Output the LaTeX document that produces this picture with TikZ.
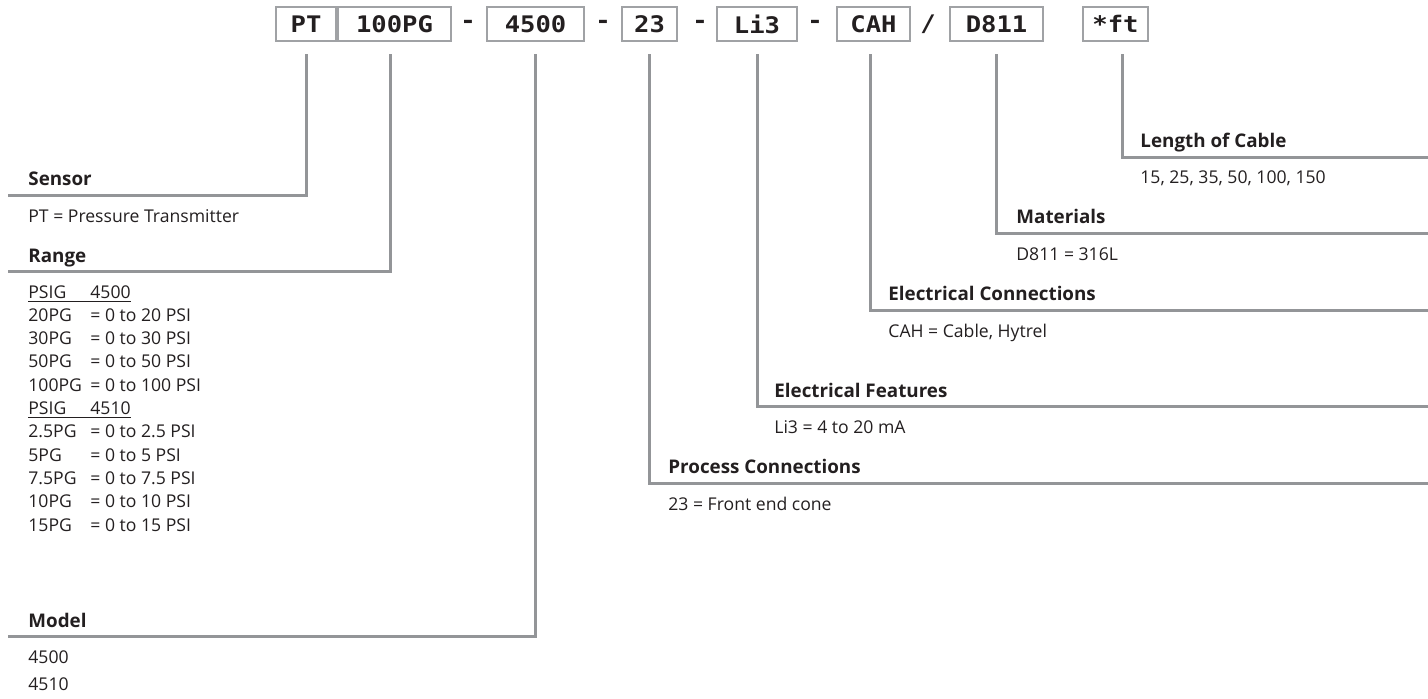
\documentclass[tikz,border=0pt]{standalone}
\usepackage{fontspec}
\setmainfont{Open Sans}
\newfontfamily\codefont[FakeStretch=1.12]{DejaVu Sans Mono}
\usetikzlibrary{positioning}
\definecolor{ink}{RGB}{35,31,32}
\definecolor{leadgray}{RGB}{147,149,152}
\definecolor{boxgray}{RGB}{160,162,165}

\newcommand\rng[2]{\makebox[31pt][l]{#1}= #2}
\newcommand\psig[1]{\underline{\makebox[31pt][l]{PSIG}#1}}

\begin{document}
\begin{tikzpicture}[
  x=0.5pt, y=-0.5pt,
  font=\fontsize{8.8}{10}\selectfont, text=ink,
  code/.style = {rectangle, draw=boxgray, line width=1pt, minimum height=17pt,
                 inner sep=0pt, font=\codefont\bfseries\fontsize{11.4}{12}\selectfont},
  sep/.style  = {inner sep=0pt, font=\codefont\bfseries\fontsize{11.4}{12}\selectfont},
  ttl/.style  = {anchor=base west, inner sep=0pt, font=\bfseries\fontsize{9.4}{10}\selectfont},
  txt/.style  = {anchor=base west, inner sep=0pt},
  lead/.style = {draw=leadgray, line width=1.5pt, shorten <=6pt}
]
\useasboundingbox (0,0) rectangle (1428,698);

% --- Model code ----------------------------------------------------------------
\node[code, minimum width=30pt]   (pt)   at (306,24)    {PT};
\node[code, minimum width=56.5pt, right=0pt of pt] (rng) {100PG};
\node[sep]                               at (468,24)    {-};
\node[code, minimum width=48.5pt] (mdl)  at (535.5,24)  {4500};
\node[sep]                               at (603,24)    {-};
\node[code, minimum width=27.5pt] (prc)  at (649.5,24)  {23};
\node[sep]                               at (700,24)    {-};
\node[code, minimum width=40pt]   (efe)  at (757,24)    {Li3};
\node[sep]                               at (815,24)    {-};
\node[code, minimum width=36.5pt] (eco)  at (873.5,24)  {CAH};
\node[sep]                               at (928,24)    {/};
\node[code, minimum width=46.5pt] (mat)  at (996.5,24)  {D811};
\node[code, minimum width=32.5pt] (ft)   at (1115.5,24) {*ft};

% --- Left side: Sensor, Range, Model -------------------------------------------
\node[ttl] (sens) at (28,185) {Sensor};
\node[txt] at (28,222) {PT = Pressure Transmitter};

\node[ttl] (range) at (28,262) {Range};
\foreach \row [count=\i from 0] in {{\psig{4500}},
    {\rng{20PG}{0 to 20 PSI}}, {\rng{30PG}{0 to 30 PSI}},
    {\rng{50PG}{0 to 50 PSI}}, {\rng{100PG}{0 to 100 PSI}},
    {\psig{4510}},
    {\rng{2.5PG}{0 to 2.5 PSI}}, {\rng{5PG}{0 to 5 PSI}},
    {\rng{7.5PG}{0 to 7.5 PSI}}, {\rng{10PG}{0 to 10 PSI}},
    {\rng{15PG}{0 to 15 PSI}}}
  \node[txt] at (28,{298+23.3*\i}) {\row};

\node[ttl] (model) at (28,627) {Model};
\node[txt] at (28,663) {4500};
\node[txt] at (28,690) {4510};

% --- Right side ------------------------------------------------------------------
\node[ttl] (len) at (1140,147) {Length of Cable};
\node[txt] at (1140,183) {15, 25, 35, 50, 100, 150};

\node[ttl] (matl) at (1016,223) {Materials};
\node[txt] at (1016,260) {D811 = 316L};

\node[ttl] (econ) at (888,300) {Electrical Connections};
\node[txt] at (888,337) {CAH = Cable, Hytrel};

\node[ttl] (efea) at (774,397) {Electrical Features};
\node[txt] at (774,433) {Li3 = 4 to 20 mA};

\node[ttl] (pcon) at (668,473) {Process Connections};
\node[txt] at (668,510) {23 = Front end cone};

% --- Line ends -------------------------------------------------------------------
\coordinate (sensL)  at (8,195);
\coordinate (rangeL) at (8,271);
\coordinate (modelL) at (8,636);
\coordinate (lenR)   at (1428,157);
\coordinate (matR)   at (1428,233);
\coordinate (econR)  at (1428,310);
\coordinate (efeaR)  at (1428,406);
\coordinate (pconR)  at (1428,483);

% --- Leaders ---------------------------------------------------------------------
\draw[lead] (pt.south)  |- (sensL);
\draw[lead] ([xshift=-2.25pt]rng.south) |- (rangeL);
\draw[lead] (mdl.south) |- (modelL);
\draw[lead] (prc.south) |- (pconR);
\draw[lead] (efe.south) |- (efeaR);
\draw[lead] ([xshift=-1.75pt]eco.south) |- (econR);
\draw[lead] (mat.south) |- (matR);
\draw[lead] ([xshift=3.25pt]ft.south) |- (lenR);

\end{tikzpicture}
\end{document}
